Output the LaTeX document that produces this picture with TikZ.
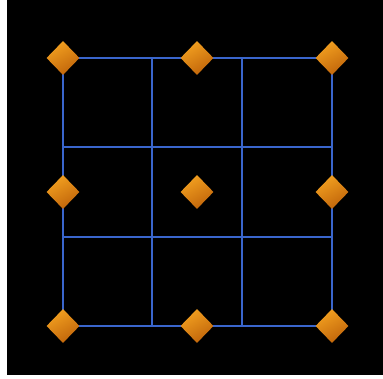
\documentclass[tikz,border=0pt]{standalone}
\usetikzlibrary{shapes.geometric}
\definecolor{gridblue}{HTML}{3A66CC}
\definecolor{gemlight}{HTML}{F2A020}
\definecolor{gemdark}{HTML}{C0640A}
\tikzset{
  gridline/.style={draw=gridblue, line width=1.1pt},
  gem/.style={diamond, inner sep=0pt, minimum width=33pt, minimum height=34pt,
    shading=axis, top color=gemlight, bottom color=gemdark, shading angle=30, draw=none}
}
\begin{document}
\begin{tikzpicture}[x=1pt,y=1pt]
\useasboundingbox (0,0) rectangle (383,379);
\fill[white] (0,0) rectangle (383,379);
\fill[black] (7,4) rectangle (383,379);
% grid
\foreach \x in {63,152,242,332} \draw[gridline] (\x,321) -- (\x,53);
\foreach \y in {321,232,142,53} \draw[gridline] (63,\y) -- (332,\y);
% gems
\node[gem] (g1) at (63,321) {};
\node[gem] (g2) at (197,321) {};
\node[gem] (g3) at (332,321) {};
\node[gem] (g4) at (63,187) {};
\node[gem] (g5) at (197,187) {};
\node[gem] (g6) at (332,187) {};
\node[gem] (g7) at (63,53) {};
\node[gem] (g8) at (197,53) {};
\node[gem] (g9) at (332,53) {};
\end{tikzpicture}
\end{document}
